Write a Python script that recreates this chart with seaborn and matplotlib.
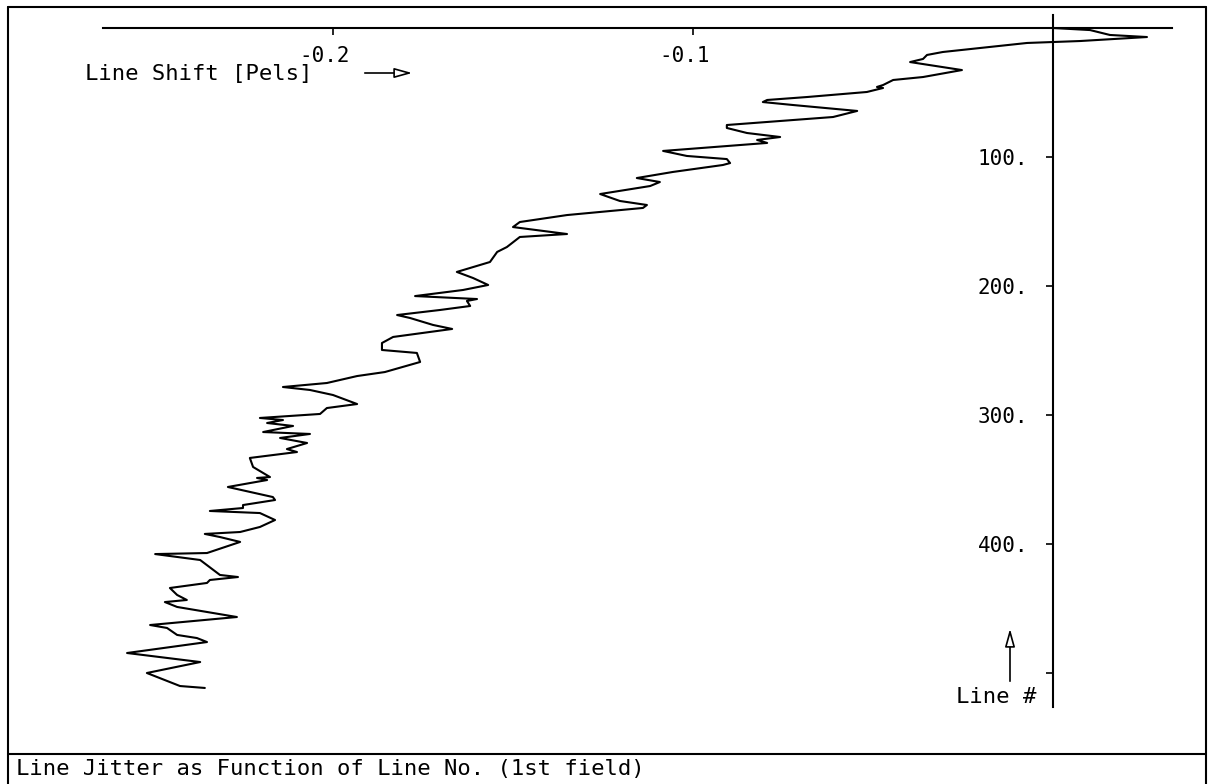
import numpy as np
import pandas as pd
import matplotlib
matplotlib.use('Agg')
import matplotlib.pyplot as plt
import matplotlib.transforms as mtransforms
from matplotlib.lines import Line2D
import seaborn as sns

# ---- data ----
line_no = [0.0, 1.6, 5.4, 7.0, 7.8, 10.1, 10.9, 11.6, 18.6, 20.9, 24.0, 26.4,
           32.6, 38.0, 40.3, 44.2, 45.7, 46.5, 49.6, 53.5, 55.8, 57.4, 59.7,
           64.3, 69.0, 75.2, 77.5, 81.4, 84.5, 86.8, 89.1, 95.3, 99.2, 101.6,
           104.7, 106.2, 111.6, 116.3, 119.4, 122.5, 128.7, 134.1, 137.2,
           139.5, 145.0, 150.4, 154.3, 159.7, 162.0, 169.8, 173.6, 181.4,
           189.1, 193.8, 199.2, 203.1, 207.8, 210.1, 211.6, 215.5, 218.6,
           222.5, 224.8, 230.2, 233.3, 239.5, 244.2, 249.6, 251.9, 258.9,
           266.7, 269.8, 275.2, 278.3, 280.6, 284.5, 291.5, 294.6, 299.2,
           302.3, 303.9, 306.2, 308.5, 313.2, 314.7, 317.8, 321.7, 326.4,
           328.7, 333.3, 340.3, 348.1, 348.8, 350.4, 355.8, 363.6, 365.9,
           369.8, 372.1, 374.4, 376.0, 381.4, 386.8, 390.7, 392.2, 394.6,
           398.4, 407.0, 407.8, 412.4, 424.0, 425.6, 427.9, 430.2, 434.1,
           439.5, 443.4, 445.0, 448.8, 456.6, 462.8, 465.1, 470.5, 472.9,
           476.0, 484.5, 491.5, 500.0, 510.1, 511.6]
line_shift = [0.0, 0.0103, 0.0158, 0.0261, 0.0214, 0.0075, 0.0, -0.0072,
              -0.0306, -0.0350, -0.0361, -0.0397, -0.0253, -0.0361, -0.0444,
              -0.0472, -0.0489, -0.0472, -0.0517, -0.0683, -0.0794, -0.0806,
              -0.0722, -0.0544, -0.0611, -0.0906, -0.0906, -0.0850, -0.0758,
              -0.0822, -0.0794, -0.1083, -0.1017, -0.0906, -0.0897, -0.0917,
              -0.1056, -0.1156, -0.1092, -0.1119, -0.1258, -0.1203, -0.1128,
              -0.1139, -0.1350, -0.1481, -0.1500, -0.1350, -0.1481, -0.1517,
              -0.1544, -0.1564, -0.1656, -0.1611, -0.1569, -0.1639, -0.1772,
              -0.1600, -0.1628, -0.1619, -0.1703, -0.1822, -0.1786, -0.1722,
              -0.1669, -0.1833, -0.1864, -0.1864, -0.1767, -0.1758, -0.1856,
              -0.1933, -0.2017, -0.2139, -0.2064, -0.2000, -0.1933, -0.2017,
              -0.2036, -0.2203, -0.2139, -0.2183, -0.2111, -0.2194, -0.2064,
              -0.2147, -0.2072, -0.2128, -0.2100, -0.2231, -0.2222, -0.2175,
              -0.2211, -0.2183, -0.2292, -0.2167, -0.2161, -0.2250, -0.2250,
              -0.2342, -0.2203, -0.2161, -0.2203, -0.2258, -0.2356, -0.2314,
              -0.2258, -0.2350, -0.2494, -0.2369, -0.2314, -0.2264, -0.2342,
              -0.2350, -0.2453, -0.2433, -0.2406, -0.2467, -0.2433, -0.2267,
              -0.2508, -0.2461, -0.2433, -0.2378, -0.2350, -0.2572, -0.2369,
              -0.2517, -0.2425, -0.2356]

x_ticks = [-0.2, -0.1]
x_tick_labels = ['-0.2', '-0.1']
y_ticks = [100, 200, 300, 400, 500]
y_tick_labels = ['100.', '200.', '300.', '400.', '']
x_label = 'Line Shift [Pels]'
y_label = 'Line #'
caption = 'Line Jitter as Function of Line No. (1st field)'

# ---- figure ----
W, H = 1209, 784
sns.set_theme(style='white')
plt.rcParams['font.family'] = ['DejaVu Sans Mono', 'DejaVu Sans']
FS = 16
TFS = 15

fig = plt.figure(figsize=(W / 100, H / 100), dpi=100)
fig.patch.set_facecolor('white')


def fx(px):
    return px / W


def fy(py):
    return 1 - py / H


ax_l, ax_r, ax_t, ax_b = 103, 1172, 15, 707
ax = fig.add_axes([fx(ax_l), fy(ax_b), (ax_r - ax_l) / W, (ax_b - ax_t) / H])
ax.set_facecolor('none')
x0px, xscale = 1053, 3600.0
y0px, yscale = 28, 1.29
ax.set_xlim((ax_l - x0px) / xscale, (ax_r - x0px) / xscale)
ax.set_ylim((ax_b - y0px) / yscale, (ax_t - y0px) / yscale)

df = pd.DataFrame({'shift': line_shift, 'line': line_no})
sns.lineplot(data=df, x='shift', y='line', sort=False, estimator=None,
             color='black', lw=1.5, ax=ax)
ax.set_xlabel('')
ax.set_ylabel('')

for s in ('top', 'right'):
    ax.spines[s].set_visible(False)
ax.spines['bottom'].set_position(('data', 0))
ax.spines['left'].set_position(('data', 0))
for s in ('bottom', 'left'):
    ax.spines[s].set_color('black')
    ax.spines[s].set_linewidth(1.5)

ax.set_xticks(x_ticks, x_tick_labels)
ax.set_yticks(y_ticks, y_tick_labels)
ax.tick_params(axis='x', bottom=True, direction='out', length=5, width=1.2,
               pad=8, labelsize=TFS, colors='black')
ax.tick_params(axis='y', left=True, direction='out', length=5, width=1.2,
               pad=13, labelsize=TFS, colors='black')
offset = mtransforms.ScaledTranslation(-8 / 100, 0, fig.dpi_scale_trans)
for lab in ax.get_xticklabels():
    lab.set_transform(lab.get_transform() + offset)

# axis annotations
fig.text(fx(312), fy(74), x_label, ha='right', va='center', fontsize=FS,
         color='black')
ax.annotate('', xy=(fx(415), fy(73)), xytext=(fx(362), fy(73)),
            xycoords='figure fraction', textcoords='figure fraction',
            arrowprops=dict(arrowstyle='-|>,head_length=0.9,head_width=0.25',
                            fc='white', ec='black', lw=1.2))
fig.text(fx(1036), fy(697), y_label, ha='right', va='center', fontsize=FS,
         color='black')
ax.annotate('', xy=(fx(1010), fy(626)), xytext=(fx(1010), fy(684)),
            xycoords='figure fraction', textcoords='figure fraction',
            arrowprops=dict(arrowstyle='-|>,head_length=0.9,head_width=0.25',
                            fc='white', ec='black', lw=1.2))

# frame
frame_lines = [
    ([8, 8], [7, 784]),
    ([8, 1206], [7, 7]),
    ([1206, 1206], [7, 784]),
    ([8, 1206], [754, 754]),
]
for xs, ys in frame_lines:
    fig.add_artist(Line2D([fx(v) for v in xs], [fy(v) for v in ys],
                          transform=fig.transFigure, color='black', lw=1.5))

fig.text(fx(16), fy(769), caption, ha='left', va='center', fontsize=FS,
         color='black')

fig.savefig('out.png', dpi=100, facecolor='white')
